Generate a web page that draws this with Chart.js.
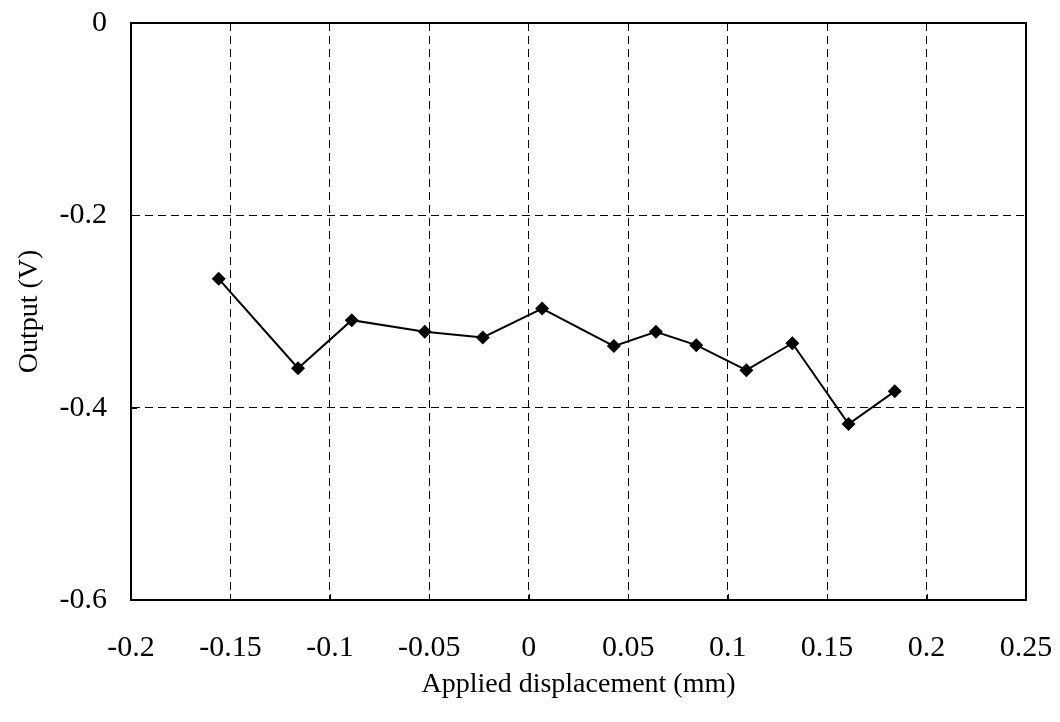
<!DOCTYPE html>
<html>
<head>
<meta charset="utf-8">
<style>
  html, body { margin: 0; padding: 0; background: #ffffff; }
  #wrap { width: 1060px; height: 722px; }
</style>
<script src="https://cdn.jsdelivr.net/npm/chart.js@4.4.1/dist/chart.umd.min.js"></script>
</head>
<body>
<div id="wrap"><canvas id="c" width="1060" height="722"></canvas></div>
<script>
// Measured displacement (mm) and sensor output (V)
const displacement = [-0.1559, -0.1160, -0.0890, -0.0523, -0.0231, 0.0067, 0.0428, 0.0639, 0.0842, 0.1094, 0.1325, 0.1608, 0.1840];
const outputVolts  = [-0.266, -0.359, -0.309, -0.321, -0.327, -0.297, -0.336, -0.321, -0.335, -0.361, -0.333, -0.417, -0.383];

const xTicks = [-0.2, -0.15, -0.1, -0.05, 0, 0.05, 0.1, 0.15, 0.2, 0.25];
const yTicks = [0, -0.2, -0.4, -0.6];

const points = displacement.map((x, i) => ({ x: x, y: outputVolts[i] }));

const FONT = "'Liberation Serif', 'Times New Roman', serif";

// solid frame round the plot area plus short inward tick marks
const plotFrame = {
  id: 'plotFrame',
  beforeDatasetsDraw(chart) {
    const { ctx, chartArea, scales } = chart;
    const { left, top, right, bottom } = chartArea;
    ctx.save();
    ctx.setLineDash([]);
    ctx.strokeStyle = '#000';
    ctx.lineWidth = 2;
    ctx.strokeRect(left, top, right - left, bottom - top);
    ctx.lineWidth = 1;
    ctx.beginPath();
    yTicks.forEach(v => {
      const y = Math.round(scales.y.getPixelForValue(v)) + 0.5;
      ctx.moveTo(left, y);
      ctx.lineTo(left + 6, y);
    });
    xTicks.forEach(v => {
      const x = Math.round(scales.x.getPixelForValue(v)) + 0.5;
      ctx.moveTo(x, bottom);
      ctx.lineTo(x, bottom - 6);
    });
    ctx.stroke();
    ctx.restore();
  }
};

new Chart(document.getElementById('c'), {
  type: 'line',
  data: {
    datasets: [{
      data: points,
      borderColor: '#000',
      backgroundColor: '#000',
      borderWidth: 2,
      pointStyle: 'rectRot',
      pointRadius: 7,
      pointHoverRadius: 7,
      pointBackgroundColor: '#000',
      pointBorderColor: '#000',
      pointBorderWidth: 0,
      tension: 0,
      fill: false
    }]
  },
  options: {
    responsive: false,
    animation: false,
    devicePixelRatio: 1,
    layout: { padding: { top: 23, right: 34, left: 0, bottom: 0 } },
    plugins: {
      legend: { display: false },
      tooltip: { enabled: false }
    },
    scales: {
      x: {
        type: 'linear',
        min: -0.2,
        max: 0.25,
        afterBuildTicks(scale) { scale.ticks = xTicks.map(v => ({ value: v })); },
        afterFit(scale) {
          scale.height = 122;
          scale.paddingLeft = 0;
          scale.paddingRight = 0;
        },
        border: { display: true, color: '#000', width: 2, dash: [8, 5] },
        grid: {
          color: '#000',
          lineWidth: 1,
          drawTicks: false
        },
        ticks: {
          color: '#000',
          padding: 30,
          maxRotation: 0,
          autoSkip: false,
          font: { family: FONT, size: 30 },
          callback: v => String(v)
        },
        title: {
          display: true,
          text: 'Applied displacement (mm)',
          color: '#000',
          font: { family: FONT, size: 28 },
          padding: { top: 0, bottom: 21 }
        }
      },
      y: {
        type: 'linear',
        min: -0.6,
        max: 0,
        afterBuildTicks(scale) { scale.ticks = yTicks.map(v => ({ value: v })); },
        afterFit(scale) {
          scale.width = 131;
          scale.paddingTop = 0;
          scale.paddingBottom = 0;
        },
        border: { display: true, color: '#000', width: 2, dash: [8, 5] },
        grid: {
          color: '#000',
          lineWidth: 1,
          drawTicks: false
        },
        ticks: {
          color: '#000',
          padding: 24,
          autoSkip: false,
          font: { family: FONT, size: 30 },
          callback: v => String(v)
        },
        title: {
          display: true,
          text: 'Output (V)',
          color: '#000',
          font: { family: FONT, size: 28 },
          padding: { top: 13, bottom: 0 }
        }
      }
    }
  },
  plugins: [plotFrame]
});
</script>
</body>
</html>
